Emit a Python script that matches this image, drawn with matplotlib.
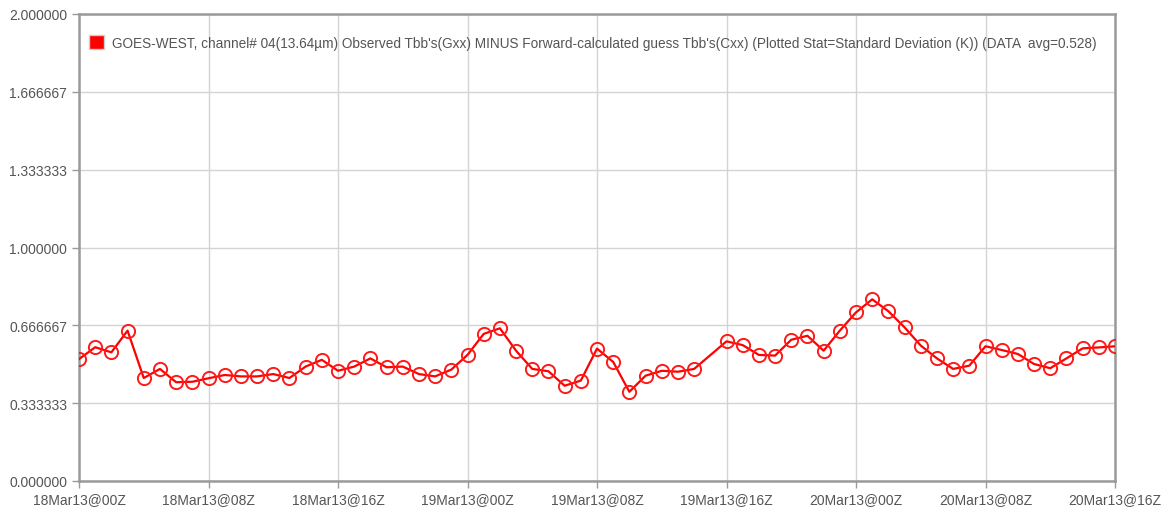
import numpy as np
import pandas as pd
import matplotlib
matplotlib.use("Agg")
import matplotlib.pyplot as plt
import matplotlib.dates as mdates
from matplotlib.patches import Patch

plt.rcParams['font.family'] = ['Liberation Sans', 'DejaVu Sans']

# hourly standard deviation (K), 18Mar13@00Z .. 20Mar13@16Z (19Mar13@15Z missing)
hours = [0, 1, 2, 3, 4, 5, 6, 7, 8, 9, 10, 11, 12, 13, 14, 15, 16, 17, 18, 19,
         20, 21, 22, 23, 24, 25, 26, 27, 28, 29, 30, 31, 32, 33, 34, 35, 36, 37, 38,
         40, 41, 42, 43, 44, 45, 46, 47, 48, 49, 50, 51, 52, 53, 54, 55, 56, 57, 58,
         59, 60, 61, 62, 63, 64]
std_dev = [0.522, 0.573, 0.551, 0.644, 0.441, 0.480, 0.423, 0.425, 0.440, 0.454,
           0.448, 0.448, 0.458, 0.441, 0.490, 0.519, 0.472, 0.490, 0.525, 0.487,
           0.490, 0.458, 0.448, 0.477, 0.540, 0.630, 0.654, 0.558, 0.480, 0.470,
           0.408, 0.430, 0.567, 0.510, 0.382, 0.451, 0.472, 0.468, 0.480,
           0.598, 0.582, 0.540, 0.537, 0.605, 0.622, 0.558, 0.644, 0.722, 0.778,
           0.727, 0.658, 0.580, 0.525, 0.480, 0.494, 0.577, 0.561, 0.544, 0.501,
           0.483, 0.525, 0.568, 0.572, 0.577]
yticks = [0.0, 1/3, 2/3, 1.0, 4/3, 5/3, 2.0]
label = ("GOES-WEST, channel# 04(13.64\u00b5m) Observed Tbb's(Gxx) MINUS "
         "Forward-calculated guess Tbb's(Cxx) (Plotted Stat=Standard Deviation (K)) "
         "(DATA  avg=0.528)")

start = pd.Timestamp("2013-03-18 00:00")
times = start + pd.to_timedelta(hours, unit="h")

fig = plt.figure(figsize=(11.67, 5.10), dpi=100)
ax = fig.add_axes([79/1167, 1 - 482/510, (1115 - 79)/1167, (482 - 15)/510])

ax.plot(times, std_dev, color="#ff0000", lw=1.6, marker="o", ms=9.5,
        mfc="none", mec="#ff1a1a", mew=1.4, zorder=3)

ax.set_xlim(start, start + pd.Timedelta(hours=64))
ax.set_ylim(0, 2)
ax.set_yticks(yticks)
ax.yaxis.set_major_formatter(plt.FuncFormatter(lambda v, p: f"{v:.6f}"))
ax.xaxis.set_major_locator(mdates.HourLocator(byhour=[0, 8, 16]))
ax.xaxis.set_major_formatter(mdates.DateFormatter("%d%b%y@%HZ"))

ax.grid(True, color="#d4d4d4", lw=1.0)
ax.set_axisbelow(True)
for s in ax.spines.values():
    s.set_color("#9a9a9a")
    s.set_linewidth(1.8)
ax.tick_params(colors="#9a9a9a", labelcolor="#555555", labelsize=10, length=5, width=1)
ax.tick_params(axis="x", pad=3)

ax.legend(handles=[Patch(facecolor="#ff0000", edgecolor="#cccccc", label=label)],
          loc="upper left", bbox_to_anchor=(0.0, 0.975), frameon=False,
          fontsize=9.8, labelcolor="#555555", handlelength=1.15, handleheight=1.15,
          handletextpad=0.55, borderaxespad=0.3)

fig.savefig("out.png", dpi=100)
